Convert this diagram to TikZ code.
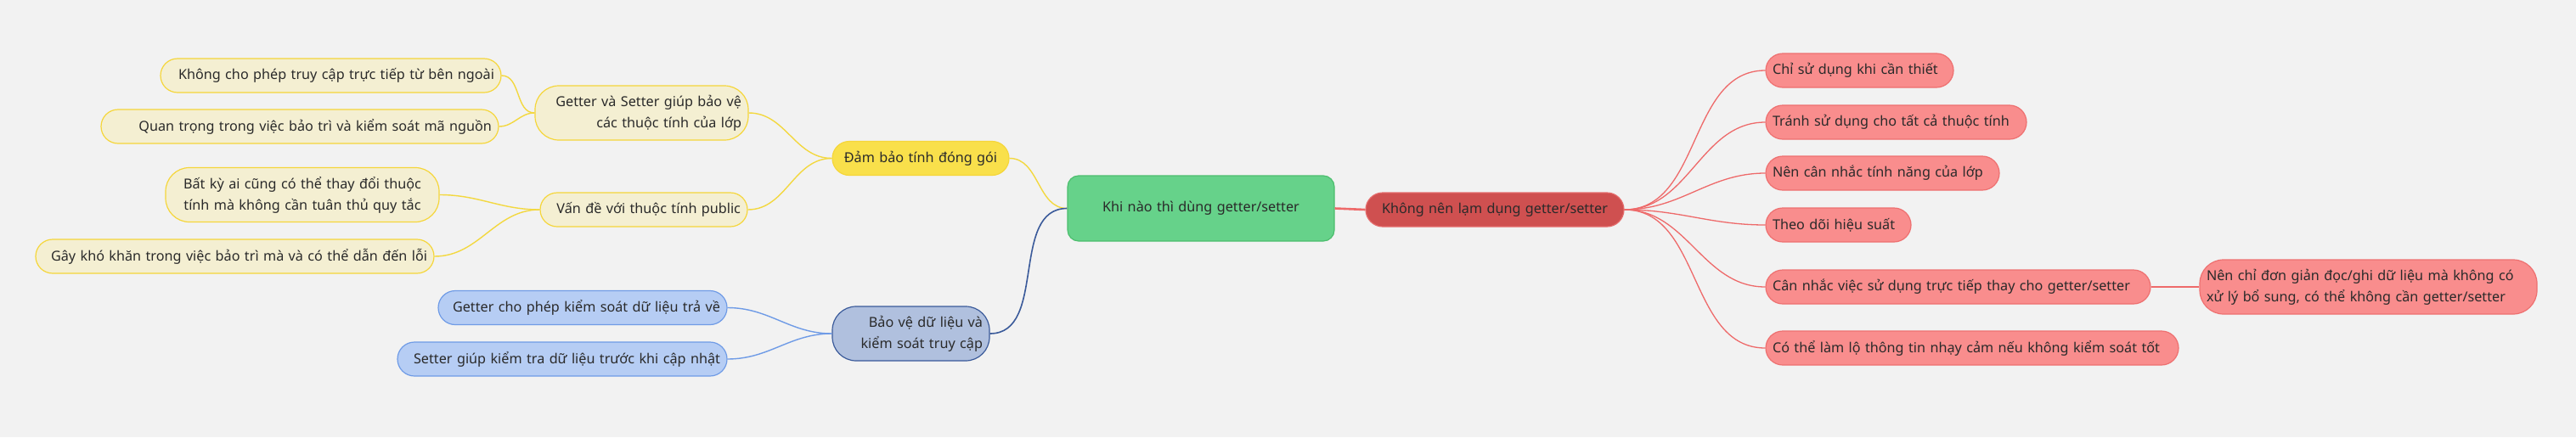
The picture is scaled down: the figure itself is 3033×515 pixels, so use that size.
\documentclass[tikz,border=0pt]{standalone}
\usepackage{fontspec}
\setmainfont{Noto Sans}
\definecolor{bg}{HTML}{F2F2F2}
\definecolor{txt}{HTML}{2A2A2A}
\definecolor{rootfill}{HTML}{66D28A}
\definecolor{rootdraw}{HTML}{4DBE6E}
\definecolor{yfill}{HTML}{F9E04B}
\definecolor{ydraw}{HTML}{F5D63A}
\definecolor{ylfill}{HTML}{F4EFD2}
\definecolor{yline}{HTML}{F3D83F}
\definecolor{bfill}{HTML}{B0C0DE}
\definecolor{bdraw}{HTML}{3A5A9A}
\definecolor{blfill}{HTML}{B6CDF4}
\definecolor{bldraw}{HTML}{6F9BE6}
\definecolor{rfill}{HTML}{CF5050}
\definecolor{rdraw}{HTML}{E46B6B}
\definecolor{rlfill}{HTML}{F98D8D}
\definecolor{rldraw}{HTML}{EE7070}
\definecolor{rline}{HTML}{EE6A6A}
\begin{document}
\begin{tikzpicture}[x=1pt,y=-1pt,
  font=\fontsize{16.2}{25}\selectfont,
  box/.style={draw, line width=1.2pt, inner xsep=8pt, inner ysep=0pt, text=txt, minimum height=40pt, rounded corners=20pt},
  tall/.style={minimum height=64pt, rounded corners=28pt},
  rootbox/.style={box, fill=rootfill, draw=rootdraw, rounded corners=13pt, minimum height=77pt, align=center},
  ymain/.style={box, fill=yfill, draw=ydraw, align=center},
  yleaf/.style={box, fill=ylfill, draw=ydraw, align=right},
  bmain/.style={box, fill=bfill, draw=bdraw, align=right},
  bleaf/.style={box, fill=blfill, draw=bldraw, align=right},
  rmain/.style={box, fill=rfill, draw=rdraw, align=center},
  rleaf/.style={box, fill=rlfill, draw=rldraw, align=left},
  ycon/.style={draw=yline, line width=1.4pt},
  bcon/.style={draw=bldraw, line width=1.4pt},
  bmcon/.style={draw=bdraw, line width=1.6pt},
  rcon/.style={draw=rline, line width=1.3pt},
  rmcon/.style={draw=rline, line width=2.6pt}
]
\path[use as bounding box, fill=bg] (0,0) rectangle (3033,515);

% root
\node[rootbox, text width=298pt] (root) at (1414,245.5) {Khi nào thì dùng getter/setter};

% yellow branch
\node[ymain, text width=192pt] (enc) at (1084,186.5) {Đảm bảo tính đóng gói};
\node[yleaf, tall, text width=235pt] (gs) at (755.5,133) {Getter và Setter giúp bảo vệ\\các thuộc tính của lớp};
\node[yleaf, text width=228pt] (pub) at (758,247) {Vấn đề với thuộc tính public};
\node[yleaf, text width=385pt] (y1) at (389.5,89) {Không cho phép truy cập trực tiếp từ bên ngoài};
\node[yleaf, text width=452pt] (y2) at (353,149) {Quan trọng trong việc bảo trì và kiểm soát mã nguồn};
\node[yleaf, tall, text width=306pt, align=center] (y3) at (356,229.5) {Bất kỳ ai cũng có thể thay đổi thuộc\\tính mà không cần tuân thủ quy tắc};
\node[yleaf, text width=453pt] (y4) at (276.5,302) {Gây khó khăn trong việc bảo trì mà và có thể dẫn đến lỗi};

% blue branch
\node[bmain, tall, text width=169pt] (prot) at (1072.5,393) {Bảo vệ dữ liệu và\\kiểm soát truy cập};
\node[bleaf, text width=324pt] (b1) at (686,362.5) {Getter cho phép kiểm soát dữ liệu trả về};
\node[bleaf, text width=372pt] (b2) at (662,423) {Setter giúp kiểm tra dữ liệu trước khi cập nhật};

% red branch
\node[rmain, text width=288pt] (abuse) at (1760,247) {Không nên lạm dụng getter/setter};
\node[rleaf, text width=205pt] (r1) at (2189.5,83) {Chỉ sử dụng khi cần thiết};
\node[rleaf, text width=291pt] (r2) at (2232.5,144) {Tránh sử dụng cho tất cả thuộc tính};
\node[rleaf, text width=259pt] (r3) at (2216.5,204) {Nên cân nhắc tính năng của lớp};
\node[rleaf, text width=155pt] (r4) at (2164.5,265) {Theo dõi hiệu suất};
\node[rleaf, text width=437pt] (r5) at (2305.5,338) {Cân nhắc việc sử dụng trực tiếp thay cho getter/setter};
\node[rleaf, tall, text width=381pt] (r5a) at (2788.5,338) {Nên chỉ đơn giản đọc/ghi dữ liệu mà không có\\xử lý bổ sung, có thể không cần getter/setter};
\node[rleaf, text width=470pt] (r6) at (2322,410) {Có thể làm lộ thông tin nhạy cảm nếu không kiểm soát tốt};

% connectors
\draw[ycon] (root.west) to[out=180,in=0] (enc.east);
\draw[bmcon] (root.west) to[out=180,in=0] (prot.east);
\draw[rmcon] (root.east) -- (abuse.west);

\draw[ycon] (enc.west) to[out=180,in=0] (gs.east);
\draw[ycon] (enc.west) to[out=180,in=0] (pub.east);
\draw[ycon] (gs.west) to[out=180,in=0] (y1.east);
\draw[ycon] (gs.west) to[out=180,in=0] (y2.east);
\draw[ycon] (pub.west) to[out=180,in=0] (y3.east);
\draw[ycon] (pub.west) to[out=180,in=0] (y4.east);

\draw[bcon] (prot.west) to[out=180,in=0] (b1.east);
\draw[bcon] (prot.west) to[out=180,in=0] (b2.east);

\foreach \c in {r1,r2,r3,r4,r5,r6}
  \draw[rcon] (abuse.east) to[out=0,in=180] (\c.west);
\draw[rcon, line width=2pt] (r5.east) -- (r5a.west);
\end{tikzpicture}
\end{document}
